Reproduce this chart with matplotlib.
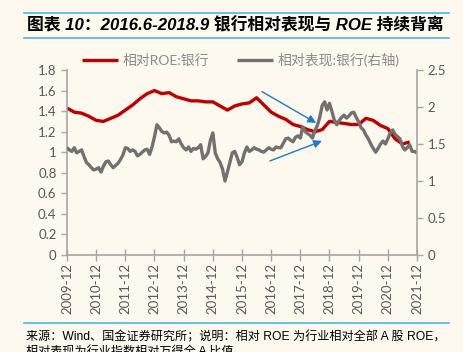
import matplotlib
matplotlib.use('Agg')
import matplotlib.pyplot as plt
import numpy as np

plt.rcParams['font.family'] = ['Lato', 'Noto Sans CJK SC', 'DejaVu Sans']

# month index: 0 = 2009-12 ... 144 = 2021-12
tick_labels = ['2009-12', '2010-12', '2011-12', '2012-12', '2013-12', '2014-12', '2015-12',
               '2016-12', '2017-12', '2018-12', '2019-12', '2020-12', '2021-12']

# relative ROE, quarterly (left axis)
roe_months = list(range(0, 142, 3))
roe_values = [1.43, 1.39, 1.38, 1.35, 1.31, 1.30, 1.33, 1.36, 1.41, 1.46, 1.52, 1.57,
              1.60, 1.57, 1.58, 1.54, 1.52, 1.50, 1.50, 1.49, 1.49, 1.45, 1.41, 1.45,
              1.47, 1.48, 1.53, 1.46, 1.39, 1.35, 1.32, 1.27, 1.25, 1.22, 1.20, 1.22,
              1.30, 1.29, 1.28, 1.27, 1.27, 1.33, 1.31, 1.26, 1.23, 1.13, 1.08, 1.10]

# relative performance, monthly (right axis)
perf_values = [1.45, 1.42, 1.40, 1.45, 1.38, 1.40, 1.42, 1.33, 1.25, 1.22, 1.18, 1.15,
               1.16, 1.18, 1.12, 1.20, 1.26, 1.27, 1.22, 1.18, 1.21, 1.24, 1.29, 1.35,
               1.45, 1.44, 1.40, 1.42, 1.40, 1.34, 1.36, 1.39, 1.42, 1.43, 1.36, 1.46,
               1.60, 1.76, 1.72, 1.67, 1.65, 1.66, 1.62, 1.53, 1.54, 1.53, 1.57, 1.50,
               1.45, 1.42, 1.46, 1.40, 1.44, 1.43, 1.45, 1.49, 1.30, 1.33, 1.38, 1.55,
               1.65, 1.38, 1.30, 1.25, 1.16, 1.00, 1.12, 1.25, 1.38, 1.40, 1.32, 1.22,
               1.26, 1.38, 1.46, 1.40, 1.42, 1.45, 1.43, 1.42, 1.40, 1.39, 1.42, 1.45,
               1.43, 1.42, 1.46, 1.45, 1.45, 1.51, 1.57, 1.58, 1.55, 1.53, 1.59, 1.61,
               1.58, 1.73, 1.67, 1.64, 1.62, 1.58, 1.68, 1.75, 1.86, 2.02, 2.07, 1.96,
               2.05, 1.94, 1.82, 1.76, 1.82, 1.86, 1.89, 1.85, 1.88, 1.92, 1.93, 1.86,
               1.80, 1.72, 1.69, 1.62, 1.57, 1.50, 1.44, 1.39, 1.44, 1.50, 1.54, 1.50,
               1.57, 1.65, 1.69, 1.63, 1.60, 1.57, 1.47, 1.42, 1.45, 1.49, 1.40, 1.40,
               1.38]
perf_months = list(range(len(perf_values)))

# arrows (month index, left-axis value): start -> tip
arrow_upper = ((80.2, 1.59), (102.5, 1.285))
arrow_lower = ((83.5, 0.915), (104.9, 1.11))

bg = '#FDF9EE'
red = '#C00000'
grey = '#747070'
axis_grey = '#A6A6A6'
text_grey = '#595959'
blue = '#4DB3E6'

fig = plt.figure(figsize=(4.63, 3.52), dpi=100, facecolor=bg)
ax = fig.add_axes([0.1447, 0.2756, 0.7559, 0.5255], facecolor=bg)
ax2 = ax.twinx()

ax.plot(roe_months, roe_values, color=red, lw=2.4, solid_capstyle='butt', label='相对ROE:银行')
ax2.plot(perf_months, perf_values, color=grey, lw=2.4, solid_capstyle='butt', label='相对表现:银行(右轴)')

ax.set_xlim(0, 144)
ax.set_ylim(0, 1.8)
ax2.set_ylim(0, 2.5)
ax.set_yticks(np.arange(0, 1.81, 0.2))
ax.set_yticklabels(['0', '0.2', '0.4', '0.6', '0.8', '1', '1.2', '1.4', '1.6', '1.8'])
ax2.set_yticks(np.arange(0, 2.51, 0.5))
ax2.set_yticklabels(['0', '0.5', '1', '1.5', '2', '2.5'])
ax.set_xticks(range(0, 145, 12))
ax.set_xticklabels(tick_labels, rotation=90)

for a in (ax, ax2):
    for s in a.spines.values():
        s.set_visible(False)
    a.tick_params(colors=axis_grey, labelcolor=text_grey, labelsize=9.5, width=1, length=4)
ax.spines['left'].set_visible(True)
ax.spines['bottom'].set_visible(True)
ax2.spines['right'].set_visible(True)
for s in (ax.spines['left'], ax.spines['bottom'], ax2.spines['right']):
    s.set_color(axis_grey)
    s.set_linewidth(1.2)
ax.tick_params(axis='x', direction='inout', length=8, pad=2)

for start, tip in (arrow_upper, arrow_lower):
    ax.annotate('', xy=tip, xytext=start,
                arrowprops=dict(arrowstyle='-|>', color='#1F7BC8', lw=1.0,
                                mutation_scale=12, shrinkA=0, shrinkB=0))

h1, l1 = ax.get_legend_handles_labels()
h2, l2 = ax2.get_legend_handles_labels()
leg = fig.legend(h1 + h2, l1 + l2, loc='center', bbox_to_anchor=(0.52, 0.829), ncol=2,
                 frameon=False, fontsize=10, handlelength=2.6, columnspacing=2.0,
                 handletextpad=0.3)
for t in leg.get_texts():
    t.set_color('#8C8C8C')

# title and footer
fig.add_artist(plt.Line2D([0.052, 0.970], [1 - 13 / 352] * 2, color=blue, lw=1.2))
fig.add_artist(plt.Line2D([0.052, 0.970], [1 - 38 / 352] * 2, color=blue, lw=1.2))
fig.add_artist(plt.Line2D([0.052, 0.970], [1 - 323 / 352] * 2, color=blue, lw=1.2))
fig.text(0.058, 1 - 25 / 352, '图表 10：2016.6-2018.9 银行相对表现与 ROE 持续背离',
         fontsize=12.1, fontweight='bold', fontstyle='italic', va='center', color='black',
         family=['Liberation Sans', 'Noto Sans CJK SC'])
fig.text(0.056, 1 - 337 / 352,
         '来源：Wind、国金证券研究所；说明：相对 ROE 为行业相对全部 A 股 ROE，',
         fontsize=8.7, va='center', color='black', family=['Liberation Sans', 'Noto Sans CJK SC'])
fig.text(0.056, 1 - 353 / 352, '相对表现为行业指数相对万得全 A 比值',
         fontsize=8.7, va='center', color='black', family=['Liberation Sans', 'Noto Sans CJK SC'])

fig.savefig('out.png', dpi=100, facecolor=bg)
